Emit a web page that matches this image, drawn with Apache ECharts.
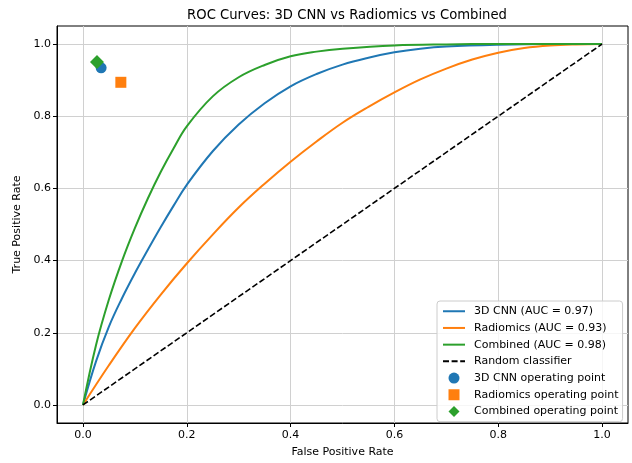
<!DOCTYPE html>
<html>
<head>
<meta charset="utf-8">
<script src="https://cdn.jsdelivr.net/npm/echarts@6/dist/echarts.min.js"></script>
<style>html,body{margin:0;padding:0;background:#fff}#c{width:632px;height:463px}</style>
</head>
<body>
<div id="c"></div>
<script>
const cnnFpr = [0, 0.025, 0.05, 0.075, 0.1, 0.125, 0.15, 0.175, 0.2, 0.25, 0.3, 0.35, 0.4, 0.45, 0.5, 0.55, 0.6, 0.65, 0.7, 0.8, 0.9, 1.0];
const cnnTpr = [0, 0.12, 0.217, 0.295, 0.365, 0.43, 0.493, 0.553, 0.61, 0.703, 0.777, 0.836, 0.883, 0.917, 0.943, 0.962, 0.977, 0.987, 0.993, 0.998, 1.0, 1.0];
const radFpr = [0, 0.05, 0.1, 0.15, 0.2, 0.25, 0.3, 0.35, 0.4, 0.45, 0.5, 0.55, 0.6, 0.65, 0.7, 0.75, 0.8, 0.85, 0.9, 0.95, 1.0];
const radTpr = [0, 0.11, 0.213, 0.306, 0.392, 0.472, 0.547, 0.613, 0.674, 0.73, 0.782, 0.826, 0.866, 0.902, 0.932, 0.957, 0.976, 0.989, 0.996, 0.999, 1.0];
const combFpr = [0, 0.025, 0.05, 0.075, 0.1, 0.125, 0.15, 0.175, 0.2, 0.25, 0.3, 0.35, 0.4, 0.45, 0.5, 0.6, 0.7, 0.8, 1.0];
const combTpr = [0, 0.165, 0.292, 0.398, 0.49, 0.572, 0.646, 0.712, 0.772, 0.855, 0.908, 0.942, 0.966, 0.979, 0.987, 0.996, 0.999, 1.0, 1.0];
const randomFpr = [0, 1];
const randomTpr = [0, 1];
const cnnPoint = [0.035, 0.934];
const radPoint = [0.073, 0.894];
const combPoint = [0.027, 0.950];
const tickValues = [0, 0.2, 0.4, 0.6, 0.8, 1.0];
const seriesNames = ['3D CNN (AUC = 0.97)', 'Radiomics (AUC = 0.93)', 'Combined (AUC = 0.98)', 'Random classifier',
  '3D CNN operating point', 'Radiomics operating point', 'Combined operating point'];

const zip = (a, b) => a.map((v, i) => [v, b[i]]);
const FONT = 'DejaVu Sans';
const C = ['#1f77b4', '#ff7f0e', '#2ca02c'];

const axisCommon = {
  type: 'value', min: -0.05, max: 1.05,
  axisLine: {show: true, onZero: false, lineStyle: {color: '#000', width: 1}},
  axisTick: {show: true, length: 4, customValues: tickValues, lineStyle: {color: '#000', width: 1}},
  axisLabel: {customValues: tickValues, color: '#000', fontFamily: FONT, fontSize: 11,
    formatter: v => v.toFixed(1)},
  splitLine: {show: true, lineStyle: {color: '#d0d0d0', width: 1}},
  nameLocation: 'middle',
  nameTextStyle: {color: '#000', fontFamily: FONT, fontSize: 11}
};

const hiddenSym = {color: 'rgba(0,0,0,0)', borderWidth: 0};
const SQUARE = 'path://M0,0L10,0L10,10L0,10Z';
const DIAMOND = 'path://M5,0L10,5L5,10L0,5Z';

const chart = echarts.init(document.getElementById('c'), null, {renderer: 'canvas'});
chart.setOption({
  animation: false,
  backgroundColor: '#fff',
  title: {text: 'ROC Curves: 3D CNN vs Radiomics vs Combined', left: 342, top: 4, textAlign: 'center',
    textStyle: {fontFamily: FONT, fontSize: 13.2, fontWeight: 'normal', color: '#000'}},
  grid: {left: 57, right: 4, top: 26, bottom: 36, show: true, borderColor: '#000', borderWidth: 1, containLabel: false},
  xAxis: Object.assign({}, axisCommon, {name: 'False Positive Rate', nameGap: 24,
    axisLabel: Object.assign({}, axisCommon.axisLabel, {margin: 7})}),
  yAxis: Object.assign({}, axisCommon, {name: 'True Positive Rate', nameGap: 28,
    axisLabel: Object.assign({}, axisCommon.axisLabel, {margin: 6})}),
  legend: {
    orient: 'vertical', left: 437, top: 301,
    padding: [4, 4, 4, 5],
    itemWidth: 22, itemHeight: 11, itemGap: 4.2,
    symbolKeepAspect: true,
    backgroundColor: 'rgba(255,255,255,0.8)', borderColor: '#cccccc', borderWidth: 1, borderRadius: 3,
    textStyle: {fontFamily: FONT, fontSize: 11, color: '#000', lineHeight: 12.5, padding: [0, 0, 0, 4]},
    data: [
      {name: seriesNames[0], itemStyle: hiddenSym},
      {name: seriesNames[1], itemStyle: hiddenSym},
      {name: seriesNames[2], itemStyle: hiddenSym},
      {name: seriesNames[3], itemStyle: hiddenSym},
      {name: seriesNames[4], icon: 'circle'},
      {name: seriesNames[5], icon: SQUARE},
      {name: seriesNames[6], icon: DIAMOND}
    ]
  },
  series: [
    {name: seriesNames[0], type: 'line', data: zip(cnnFpr, cnnTpr), symbol: 'none', smooth: 0.4,
      lineStyle: {color: C[0], width: 2}, itemStyle: {color: C[0]}},
    {name: seriesNames[1], type: 'line', data: zip(radFpr, radTpr), symbol: 'none', smooth: 0.4,
      lineStyle: {color: C[1], width: 2}, itemStyle: {color: C[1]}},
    {name: seriesNames[2], type: 'line', data: zip(combFpr, combTpr), symbol: 'none', smooth: 0.4,
      lineStyle: {color: C[2], width: 2}, itemStyle: {color: C[2]}},
    {name: seriesNames[3], type: 'line', data: zip(randomFpr, randomTpr), symbol: 'none',
      lineStyle: {color: '#000', width: 1.6, type: [6, 2.6]}, itemStyle: {color: '#000'}},
    {name: seriesNames[4], type: 'scatter', data: [cnnPoint], symbol: 'circle', symbolSize: 11, itemStyle: {color: C[0], opacity: 1}},
    {name: seriesNames[5], type: 'scatter', data: [radPoint], symbol: 'rect', symbolSize: 11, itemStyle: {color: C[1], opacity: 1}},
    {name: seriesNames[6], type: 'scatter', data: [combPoint], symbol: 'diamond', symbolSize: 14, itemStyle: {color: C[2], opacity: 1}}
  ]
});
</script>
</body>
</html>
